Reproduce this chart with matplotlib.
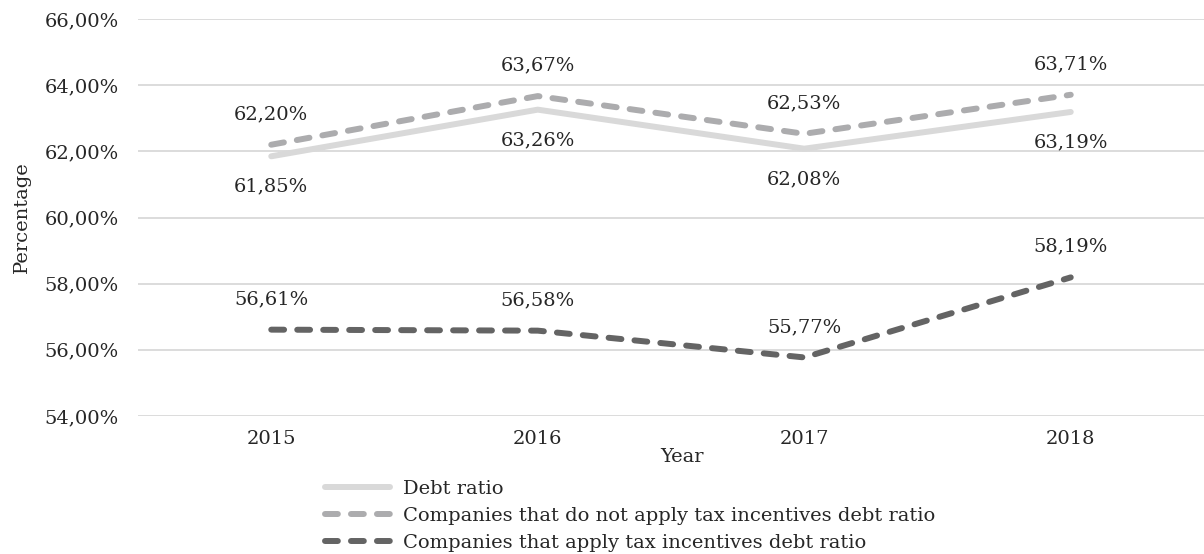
import numpy as np
import matplotlib.pyplot as plt
from matplotlib.lines import Line2D

plt.rcParams['font.family'] = ['DejaVu Serif']

years = ['2015', '2016', '2017', '2018']
debt_ratio = [61.85, 63.26, 62.08, 63.19]
no_incentive = [62.20, 63.67, 62.53, 63.71]
with_incentive = [56.61, 56.58, 55.77, 58.19]
series_names = ['Debt ratio',
                'Companies that do not apply tax incentives debt ratio',
                'Companies that apply tax incentives debt ratio']

def pct(v):
    return '{:.2f}%'.format(v).replace('.', ',')

fig = plt.figure(figsize=(12.04, 5.54), dpi=100)
ax = fig.add_axes([138 / 1204, 1 - 416 / 554, 1 - 138 / 1204, (416 - 19) / 554])

x = np.arange(len(years))
lw = 4.3
dash = (2.15, 2.2)
colors = ['#d9d9d9', '#acacae', '#646464']
ax.plot(x, debt_ratio, color=colors[0], lw=lw, solid_capstyle='round', zorder=3)
ax.plot(x, no_incentive, color=colors[1], lw=lw, dashes=dash,
        dash_capstyle='round', zorder=4)
ax.plot(x, with_incentive, color=colors[2], lw=lw, dashes=dash,
        dash_capstyle='round', zorder=4)

fs = 14
lab_kw = dict(ha='center', fontsize=fs, color='#262626', textcoords='offset points')
for xi, v in zip(x, debt_ratio):
    ax.annotate(pct(v), (xi, v), xytext=(0, -22), va='center', **lab_kw)
for xi, v in zip(x, no_incentive):
    ax.annotate(pct(v), (xi, v), xytext=(0, 22), va='center', **lab_kw)
for xi, v in zip(x, with_incentive):
    ax.annotate(pct(v), (xi, v), xytext=(0, 22), va='center', **lab_kw)

ax.set_xlim(-0.5, 3.5)
ax.set_ylim(54, 66)
ax.set_yticks(np.arange(54, 67, 2))
ax.set_yticklabels([pct(t) for t in np.arange(54, 67, 2)])
ax.set_xticks(x)
ax.set_xticklabels(years)
ax.tick_params(length=0, labelsize=fs, labelcolor='#262626')
ax.tick_params(axis='y', pad=14)
ax.tick_params(axis='x', pad=10)
ax.grid(axis='y', color='#d9d9d9', lw=1.3)
ax.set_axisbelow(True)
for s in ax.spines.values():
    s.set_visible(False)

fig.text(22 / 1204, 1 - 217 / 554, 'Percentage', rotation=90, ha='center',
         va='center', fontsize=fs, color='#262626')
fig.text(682 / 1204, 1 - 457 / 554, 'Year', ha='center', va='center',
         fontsize=fs, color='#262626')

handles = [
    Line2D([], [], color=colors[0], lw=lw, solid_capstyle='round'),
    Line2D([], [], color=colors[1], lw=lw, dashes=dash, dash_capstyle='round'),
    Line2D([], [], color=colors[2], lw=lw, dashes=dash, dash_capstyle='round'),
]
fig.legend(handles, series_names, loc='upper left',
           bbox_to_anchor=(325 / 1204, 1 - 480 / 554), frameon=False,
           fontsize=fs, handlelength=3.35, handletextpad=0.68, labelspacing=0.47,
           borderaxespad=0, borderpad=0, labelcolor='#262626')

fig.savefig('out.png', dpi=100)
